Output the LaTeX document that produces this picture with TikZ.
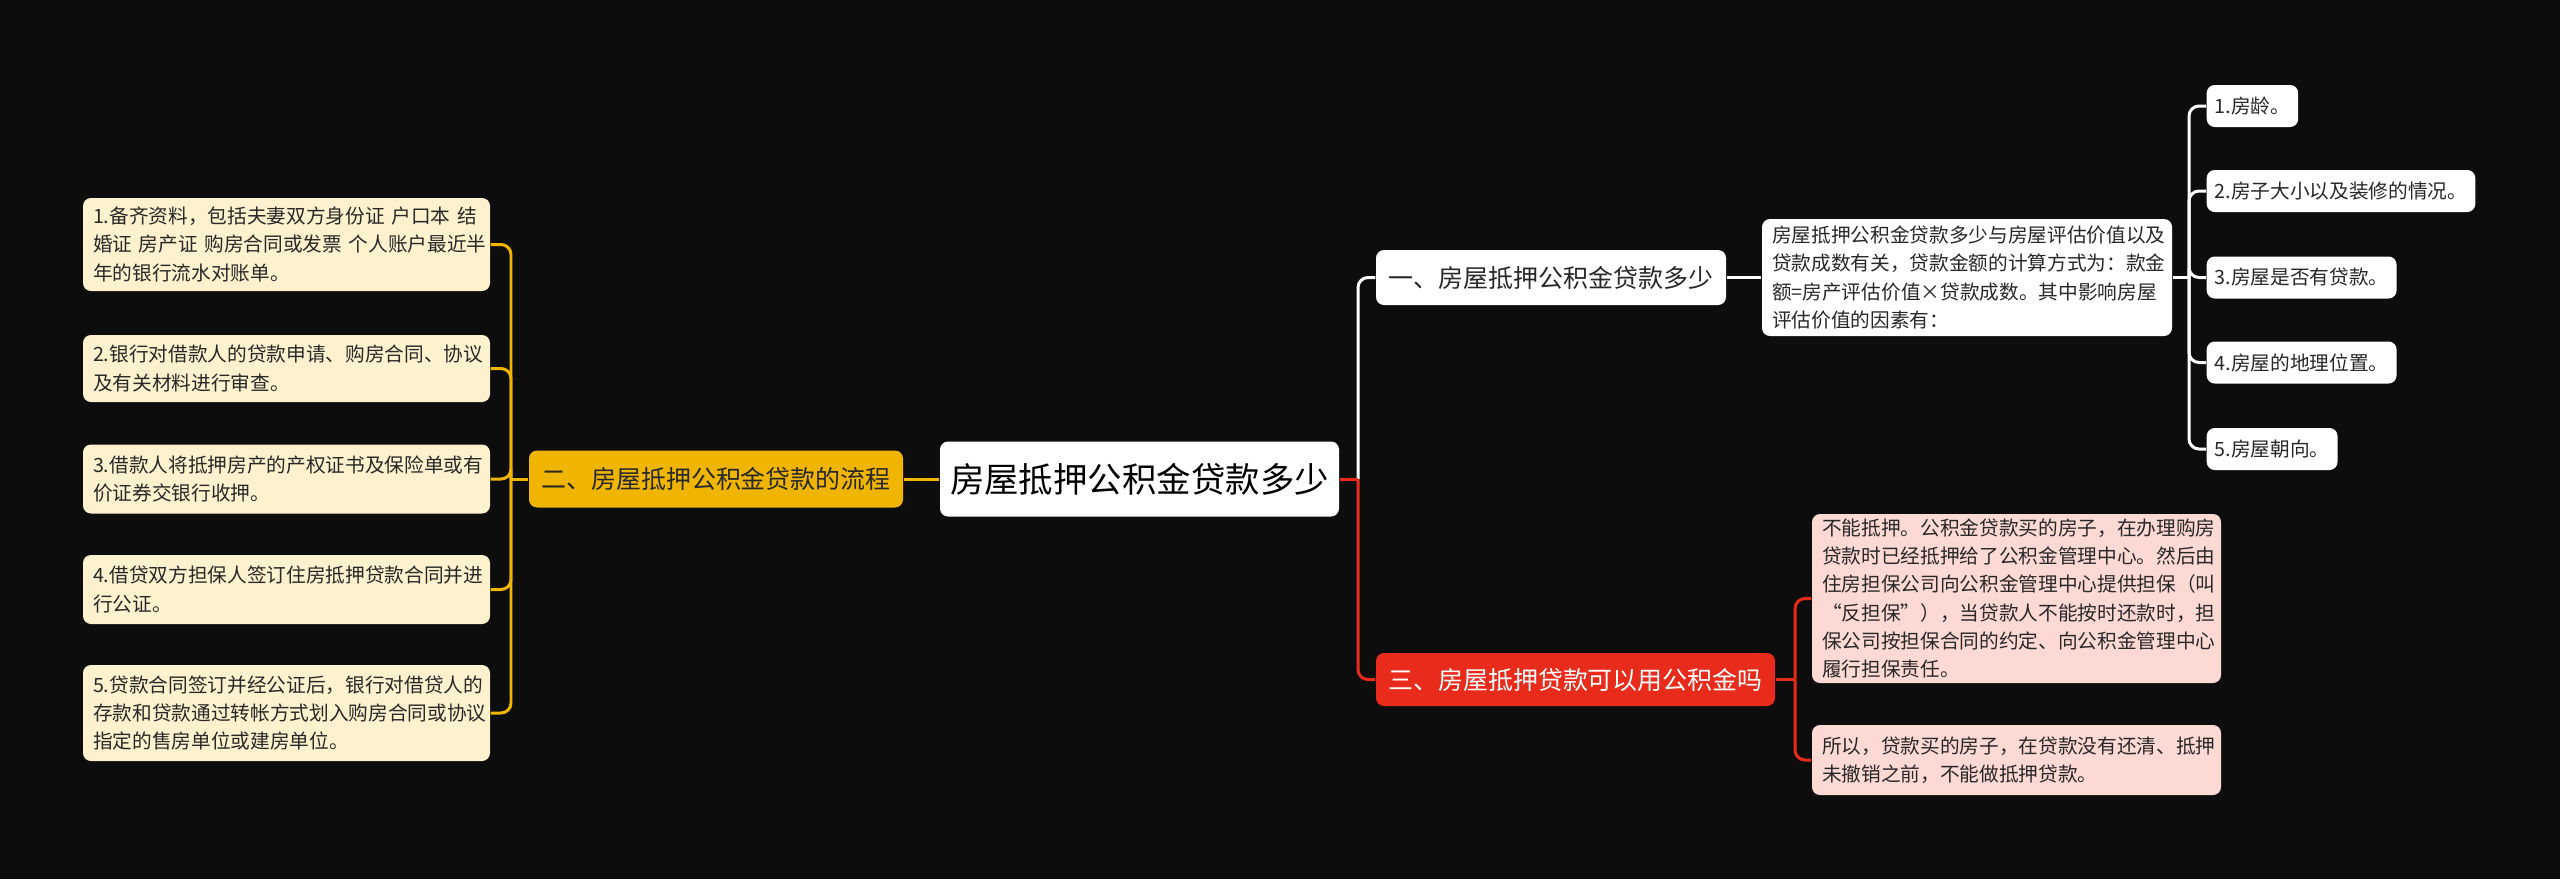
\documentclass[tikz,border=0pt]{standalone}
\usepackage{fontspec}
\newfontfamily\cjk{Noto Sans CJK SC}
\definecolor{mapbg}{RGB}{13,13,13}
\definecolor{mapgold}{RGB}{240,181,0}
\definecolor{mapcream}{RGB}{253,241,206}
\definecolor{mapred}{RGB}{233,43,27}
\definecolor{mappink}{RGB}{253,217,212}
\definecolor{mapink}{RGB}{40,40,40}

\begin{document}
\begin{tikzpicture}[every node/.style={font=\cjk, rounded corners=0.08cm, inner sep=0pt},
  small/.style={font=\cjk\fontsize{5.6}{8}\selectfont, text=mapink, align=left, inner xsep=0.1cm},
  mid/.style={font=\cjk\fontsize{7.1}{9}\selectfont},
  link/.style={line width=0.85pt, rounded corners=0.1cm}]
\useasboundingbox (0,0) rectangle (25.6,8.79);
\fill[mapbg] (0,0) rectangle (25.6,8.79);

% centre
\node[fill=white, text=black, minimum width=3.99cm, minimum height=0.75cm, font=\cjk\fontsize{9.8}{12}\selectfont] (root) at (11.395,4.0) {房屋抵押公积金贷款多少};

% left: flow
\node[mid, fill=mapgold, text=mapink, minimum width=3.74cm, minimum height=0.57cm] (flow) at (7.16,4.0) {二、房屋抵押公积金贷款的流程};
\node[small, fill=mapcream, text width=3.87cm, minimum height=0.93cm] (l1) at (2.865,6.345) {\mbox{1.备齐资料，包括夫妻双方身份证~户口本~结}\\\mbox{婚证~房产证~购房合同或发票~个人账户最近半}\\年的银行流水对账单。};
\node[small, fill=mapcream, text width=3.87cm, minimum height=0.67cm] (l2) at (2.865,5.105) {2.银行对借款人的贷款申请、购房合同、协议\\及有关材料进行审查。};
\node[small, fill=mapcream, text width=3.87cm, minimum height=0.69cm] (l3) at (2.865,4.0) {3.借款人将抵押房产的产权证书及保险单或有\\价证券交银行收押。};
\node[small, fill=mapcream, text width=3.87cm, minimum height=0.69cm] (l4) at (2.865,2.895) {4.借贷双方担保人签订住房抵押贷款合同并进\\行公证。};
\node[small, fill=mapcream, text width=3.87cm, minimum height=0.96cm] (l5) at (2.865,1.66) {5.贷款合同签订并经公证后，银行对借贷人的\\存款和贷款通过转帐方式划入购房合同或协议\\指定的售房单位或建房单位。};
\coordinate (jl) at (5.11,4.0);
\draw[link, mapgold] (root.west) -- (flow.east);
\draw[link, mapgold] (flow.west) -- (jl);
\foreach \n in {l1,l2,l3,l4,l5}
  \draw[link, mapgold] (jl) |- (\n.east);

% right top: amount
\node[mid, fill=white, text=mapink, minimum width=3.5cm, minimum height=0.55cm] (one) at (15.51,6.015) {一、房屋抵押公积金贷款多少};
\node[small, fill=white, text width=3.9cm, minimum height=1.17cm] (desc) at (19.67,6.015) {房屋抵押公积金贷款多少与房屋评估价值以及\\贷款成数有关，贷款金额的计算方式为：款金\\额=房产评估价值×贷款成数。其中影响房屋\\评估价值的因素有：};
\node[small, fill=white, anchor=west, minimum height=0.42cm, inner xsep=0.08cm] (r1) at (22.06,7.73) {1.房龄。};
\node[small, fill=white, anchor=west, minimum height=0.42cm, inner xsep=0.08cm] (r2) at (22.06,6.88) {2.房子大小以及装修的情况。};
\node[small, fill=white, anchor=west, minimum height=0.42cm, inner xsep=0.08cm] (r3) at (22.06,6.015) {3.房屋是否有贷款。};
\node[small, fill=white, anchor=west, minimum height=0.42cm, inner xsep=0.08cm] (r4) at (22.06,5.165) {4.房屋的地理位置。};
\node[small, fill=white, anchor=west, minimum height=0.42cm, inner xsep=0.08cm] (r5) at (22.06,4.30) {5.房屋朝向。};
\coordinate (jr) at (13.58,4.0);
\coordinate (jd) at (21.89,6.015);
\draw[link, white] (jr) |- (one.west);
\draw[link, white] (one.east) -- (desc.west);
\draw[link, white] (desc.east) -- (jd);
\foreach \n in {r1,r2,r3,r4,r5}
  \draw[link, white] (jd) |- (\n.west);

% right bottom: mortgage
\node[mid, fill=mapred, text=white, minimum width=3.99cm, minimum height=0.53cm] (three) at (15.755,1.995) {三、房屋抵押贷款可以用公积金吗};
\node[small, fill=mappink, text width=3.89cm, minimum height=1.69cm] (p1) at (20.165,2.805) {不能抵押。公积金贷款买的房子，在办理购房\\贷款时已经抵押给了公积金管理中心。然后由\\住房担保公司向公积金管理中心提供担保（叫\\“反担保”），当贷款人不能按时还款时，担\\保公司按担保合同的约定、向公积金管理中心\\履行担保责任。};
\node[small, fill=mappink, text width=3.89cm, minimum height=0.70cm] (p2) at (20.165,1.19) {所以，贷款买的房子，在贷款没有还清、抵押\\未撤销之前，不能做抵押贷款。};
\coordinate (jt) at (17.95,1.995);
\draw[link, mapred] (root.east) -- (jr);
\draw[link, mapred] (jr) |- (three.west);
\draw[link, mapred] (three.east) -- (jt);
\draw[link, mapred] (jt) |- (p1.west);
\draw[link, mapred] (jt) |- (p2.west);
\end{tikzpicture}
\end{document}
